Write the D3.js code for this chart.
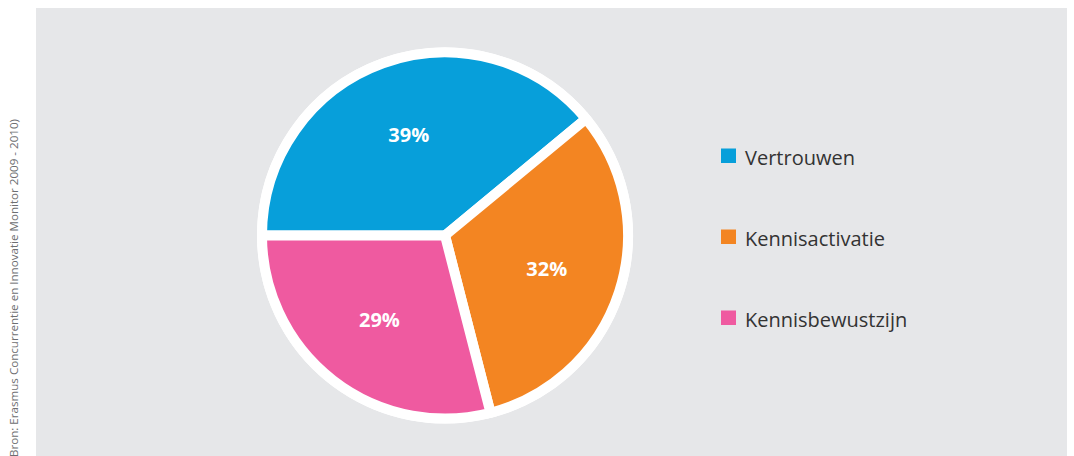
<!DOCTYPE html>
<html>
<head>
<meta charset="utf-8">
<script src="https://cdn.jsdelivr.net/npm/d3@7"></script>
<style>
  html, body { margin: 0; padding: 0; background: #fff; }
  svg { display: block; }
</style>
</head>
<body>
<svg id="chart"></svg>
<script>
// chart data
const categories = ["Vertrouwen", "Kennisactivatie", "Kennisbewustzijn"]
const values = [39, 32, 29]
const colors = ["#079fda", "#f38522", "#ef5aa0"]
const source = "Bron: Erasmus Concurrentie en Innovatie Monitor 2009 - 2010)"

// basic parameters
const width = 1074
const height = 456
const cx = 445
const cy = 235.5
const radius = 183

const svg = d3.select("#chart")
  .attr("width", width)
  .attr("height", height)
  .style("font-family", "'Open Sans', 'Noto Sans', sans-serif")

// grey panel
svg.append("rect")
  .attr("x", 36)
  .attr("y", 8)
  .attr("width", 1031)
  .attr("height", height - 8)
  .attr("fill", "#e6e7e9")

// source text, rotated
svg.append("text")
  .attr("transform", "translate(18," + 457 + ") rotate(-90)")
  .attr("font-size", 11.6)
  .attr("fill", "#6d6e71")
  .text(source)

const data = categories.map((c, i) => ({ name: c, value: values[i], color: colors[i] }))

const pie = d3.pie()
  .sort(null)
  .value(d => d.value)
  .startAngle(-Math.PI / 2)
  .endAngle(Math.PI * 1.5)

const arc = d3.arc().innerRadius(0).outerRadius(radius)
const labelArc = d3.arc().innerRadius(107).outerRadius(107)

const g = svg.append("g").attr("transform", "translate(" + cx + "," + cy + ")")

// white disc behind the pie
g.append("circle")
  .attr("r", radius + 5)
  .attr("fill", "#fff")

g.selectAll("path.slice")
  .data(pie(data))
  .enter()
  .append("path")
  .attr("class", "slice")
  .attr("d", arc)
  .attr("fill", d => d.data.color)
  .attr("stroke", "#fff")
  .attr("stroke-width", 10)
  .attr("stroke-linejoin", "miter")

g.selectAll("text.pct")
  .data(pie(data))
  .enter()
  .append("text")
  .attr("class", "pct")
  .attr("transform", d => "translate(" + labelArc.centroid(d) + ")")
  .attr("text-anchor", "middle")
  .attr("dy", "0.35em")
  .attr("font-size", 20)
  .attr("font-weight", "bold")
  .attr("fill", "#fff")
  .text(d => d.data.value + "%")

// legend
const legend = svg.selectAll("g.legend")
  .data(data)
  .enter()
  .append("g")
  .attr("class", "legend")
  .attr("transform", (d, i) => "translate(721," + (148.5 + i * 81) + ")")

legend.append("rect")
  .attr("width", 15)
  .attr("height", 14.5)
  .attr("fill", d => d.color)

legend.append("text")
  .attr("x", 24)
  .attr("y", 16.5)
  .attr("font-size", 20)
  .attr("fill", "#333")
  .text(d => d.name)
</script>
</body>
</html>
